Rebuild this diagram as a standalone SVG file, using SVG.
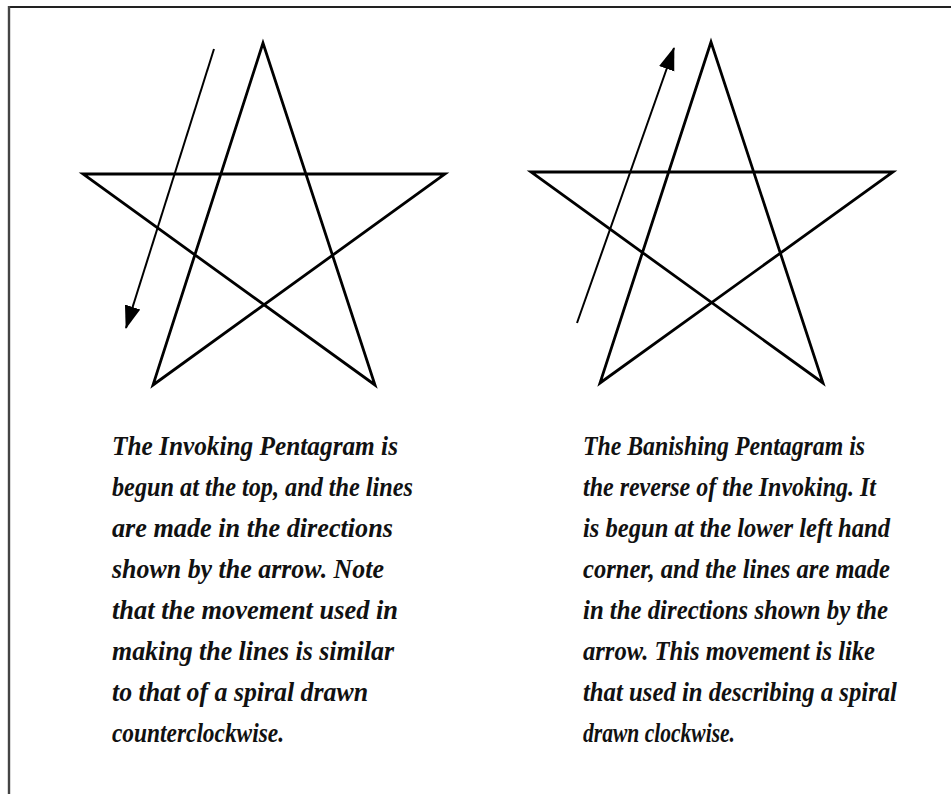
<svg xmlns="http://www.w3.org/2000/svg" width="951" height="794" viewBox="0 0 951 794">
<defs>
<style>
.star{fill:none;stroke:#000;stroke-width:2.8;stroke-linejoin:miter}
.arrow{fill:none;stroke:#000;stroke-width:2}
.txt{font-family:"Liberation Serif","Times New Roman",serif;font-style:italic;font-weight:bold;font-size:28px;fill:#111}
</style>
<marker id="ah" markerUnits="userSpaceOnUse" markerWidth="24" markerHeight="18" viewBox="0 0 24 18" refX="22" refY="9" orient="auto">
<path d="M0,1 L23,9 L0,17 Z" fill="#000"/>
</marker>
</defs>
<rect x="0" y="0" width="951" height="794" fill="#fff"/>
<line x1="9" y1="7" x2="951" y2="7" stroke="#222" stroke-width="2"/>
<line x1="9" y1="6" x2="9" y2="794" stroke="#444" stroke-width="2.4"/>
<g id="invoking-star">
<path class="star" d="M263,43 L153,385 L445,174 L83,174 L375,385 Z"/>
</g>
<g id="banishing-star">
<path class="star" d="M711,42 L600,383 L893,172 L531,172 L823,383 Z"/>
</g>
<g id="connectors">
<line class="arrow" x1="214" y1="49" x2="126" y2="328" marker-end="url(#ah)"/>
<line class="arrow" x1="577" y1="323" x2="674" y2="48" marker-end="url(#ah)"/>
</g>
<g id="invoking-text" class="txt">
<text x="112" y="455" textLength="286" lengthAdjust="spacingAndGlyphs">The Invoking Pentagram is</text>
<text x="112" y="496" textLength="301" lengthAdjust="spacingAndGlyphs">begun at the top, and the lines</text>
<text x="112" y="537" textLength="281" lengthAdjust="spacingAndGlyphs">are made in the directions</text>
<text x="112" y="578" textLength="272" lengthAdjust="spacingAndGlyphs">shown by the arrow. Note</text>
<text x="112" y="619" textLength="286" lengthAdjust="spacingAndGlyphs">that the movement used in</text>
<text x="112" y="660" textLength="282" lengthAdjust="spacingAndGlyphs">making the lines is similar</text>
<text x="112" y="701" textLength="256" lengthAdjust="spacingAndGlyphs">to that of a spiral drawn</text>
<text x="112" y="742" textLength="172" lengthAdjust="spacingAndGlyphs">counterclockwise.</text>
</g>
<g id="banishing-text" class="txt">
<text x="583" y="455" textLength="282" lengthAdjust="spacingAndGlyphs">The Banishing Pentagram is</text>
<text x="583" y="496" textLength="293" lengthAdjust="spacingAndGlyphs">the reverse of the Invoking. It</text>
<text x="583" y="537" textLength="307" lengthAdjust="spacingAndGlyphs">is begun at the lower left hand</text>
<text x="583" y="578" textLength="307" lengthAdjust="spacingAndGlyphs">corner, and the lines are made</text>
<text x="583" y="619" textLength="305" lengthAdjust="spacingAndGlyphs">in the directions shown by the</text>
<text x="583" y="660" textLength="292" lengthAdjust="spacingAndGlyphs">arrow. This movement is like</text>
<text x="583" y="701" textLength="314" lengthAdjust="spacingAndGlyphs">that used in describing a spiral</text>
<text x="583" y="742" textLength="152" lengthAdjust="spacingAndGlyphs">drawn clockwise.</text>
</g>
</svg>
